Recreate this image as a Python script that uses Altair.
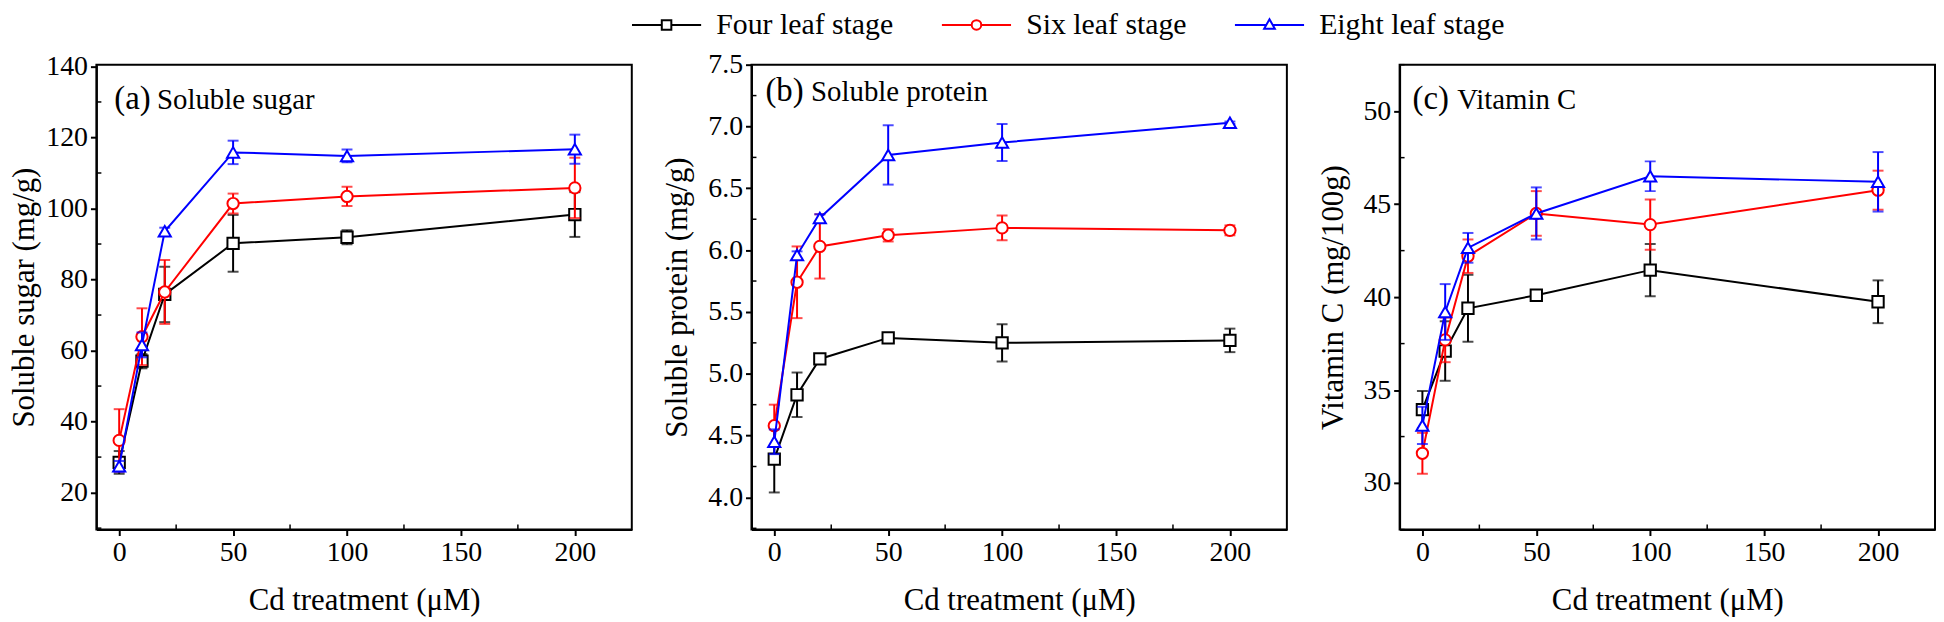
import altair as alt
import pandas as pd

# ---------------- data ----------------
cd = [0, 10, 20, 50, 100, 200]
stages = ["Four leaf stage", "Six leaf stage", "Eight leaf stage"]
stage_colors = ["#000000", "#ff0000", "#0000ff"]
stage_shapes = ["square", "circle", "triangle-up"]

sugar_four = [28.5, 57.0, 75.8, 90.2, 91.9, 98.3]
sugar_four_err = [3.2, 2.0, 7.8, 8.0, 2.0, 6.3]
sugar_six = [34.7, 63.9, 76.5, 101.4, 103.4, 105.8]
sugar_six_err = [8.8, 8.0, 9.0, 2.8, 2.7, 8.5]
sugar_eight = [27.4, 61.6, 93.6, 115.8, 114.8, 116.7]
sugar_eight_err = [1.5, 3.5, 1.0, 3.3, 1.8, 4.1]

protein_four = [4.31, 4.83, 5.12, 5.29, 5.25, 5.27]
protein_four_err = [0.27, 0.18, 0.04, 0.02, 0.15, 0.095]
protein_six = [4.58, 5.74, 6.03, 6.12, 6.18, 6.16]
protein_six_err = [0.17, 0.29, 0.26, 0.05, 0.10, 0.04]
protein_eight = [4.45, 5.96, 6.26, 6.77, 6.87, 7.03]
protein_eight_err = [0.10, 0.03, 0.03, 0.24, 0.15, 0.01]

vitc_four = [33.95, 37.1, 39.4, 40.1, 41.45, 39.75]
vitc_four_err = [1.0, 1.6, 1.8, 0.2, 1.4, 1.15]
vitc_six = [31.6, 37.7, 42.2, 44.5, 43.9, 45.75]
vitc_six_err = [1.1, 1.2, 0.9, 1.2, 1.35, 1.05]
vitc_eight = [33.1, 39.2, 42.65, 44.5, 46.5, 46.2]
vitc_eight_err = [1.0, 1.5, 0.8, 1.4, 0.8, 1.6]

x_ticks = [0, 50, 100, 150, 200]
x_minor = [25, 75, 125, 175]

sugar_ticks = [20, 40, 60, 80, 100, 120, 140]
sugar_minor = [10, 30, 50, 70, 90, 110, 130]
protein_ticks = [4.0, 4.5, 5.0, 5.5, 6.0, 6.5, 7.0, 7.5]
protein_minor = [3.75, 4.25, 4.75, 5.25, 5.75, 6.25, 6.75, 7.25]
vitc_ticks = [30, 35, 40, 45, 50]
vitc_minor = [27.5, 32.5, 37.5, 42.5, 47.5, 52.5]

# legend symbols: line + marker (unit = sqrt(symbolSize)/2 px)
legend_paths = [
    "M-5.8,0H-0.8M0.8,0H5.8M-0.8,-0.8H0.8V0.8H-0.8Z",
    "M-5.8,0H-0.8M0.8,0H5.8M0.8,0A0.8,0.8,0,1,1,-0.8,0A0.8,0.8,0,1,1,0.8,0Z",
    "M-5.8,0H-0.5M0.5,0H5.8M0,-0.95L0.9,0.65H-0.9Z",
]

FONT = "Liberation Serif"
W, H = 539, 468


def make_df(means, errs):
    rows = []
    for s, m, e in zip(stages, means, errs):
        for xv, mv, ev in zip(cd, m, e):
            rows.append(dict(stage=s, x=xv, y=mv, lo=mv - ev, hi=mv + ev))
    return pd.DataFrame(rows)


def panel(df, ydom, yticks, yminor, yfmt, ytitle, title_x, tag, name,
          tag_x, name_x, label_y, with_legend=False):
    xs = alt.Scale(domain=[-10, 225], nice=False, zero=False)
    ys = alt.Scale(domain=ydom, nice=False, zero=False)
    xax = alt.Axis(values=x_ticks, title="Cd treatment (μM)", titlePadding=20, format="d")
    yax = alt.Axis(values=yticks, title=ytitle, titleX=title_x, titleY=H / 2,
                   titleBaseline="middle", titleAlign="center", titleAngle=270,
                   format=yfmt)
    X = alt.X("x:Q", scale=xs, axis=xax)
    layers = []
    # minor ticks (inward)
    layers.append(
        alt.Chart(pd.DataFrame({"v": yminor})).mark_rule(color="black", strokeWidth=1.5)
        .encode(y=alt.Y("v:Q", scale=ys, axis=yax), x=alt.value(0), x2=alt.value(5))
    )
    layers.append(
        alt.Chart(pd.DataFrame({"v": x_minor})).mark_rule(color="black", strokeWidth=1.5)
        .encode(x=alt.X("v:Q", scale=xs, axis=xax), y=alt.value(H), y2=alt.value(H - 5))
    )
    for s, c, sh in zip(stages, stage_colors, stage_shapes):
        b = alt.Chart(df).transform_filter(alt.datum.stage == s)
        layers.append(
            b.mark_rule(color=c, strokeWidth=2).encode(
                x=X, y=alt.Y("lo:Q", scale=ys, axis=yax), y2="hi:Q")
        )
        layers.append(
            b.mark_tick(color=c, thickness=2, size=11, orient="horizontal").encode(
                x=X, y=alt.Y("hi:Q", scale=ys, axis=yax))
        )
        layers.append(
            b.mark_tick(color=c, thickness=2, size=11, orient="horizontal").encode(
                x=X, y=alt.Y("lo:Q", scale=ys, axis=yax))
        )
        layers.append(
            b.mark_line(color=c, strokeWidth=2).encode(
                x=X, y=alt.Y("y:Q", scale=ys, axis=yax))
        )
        layers.append(
            b.mark_point(shape=sh, filled=True, fill="white", stroke=c, strokeWidth=2,
                         size=150 if sh == "triangle-up" else 130, opacity=1).encode(
                x=X, y=alt.Y("y:Q", scale=ys, axis=yax))
        )
    if with_legend:
        leg_common = dict(
            title=None, orient="none", legendX=559, legendY=-55, direction="horizontal",
            labelFont=FONT, labelFontSize=30, labelColor="black", symbolSize=144,
            symbolStrokeWidth=2, symbolOpacity=1, labelOffset=35, columnPadding=44,
            padding=0, labelLimit=400,
        )
        layers.append(
            alt.Chart(df).transform_filter(alt.datum.x == 0)
            .mark_point(opacity=0, filled=False, size=144, strokeWidth=2)
            .encode(
                x=X, y=alt.Y("y:Q", scale=ys, axis=yax),
                stroke=alt.Stroke("stage:N", scale=alt.Scale(domain=stages, range=stage_colors),
                                  legend=alt.Legend(**leg_common)),
                shape=alt.Shape("stage:N", scale=alt.Scale(domain=stages, range=legend_paths),
                                legend=alt.Legend(**leg_common)),
            )
        )
    lab = pd.DataFrame({"tag": [tag], "name": [name]})
    layers.append(
        alt.Chart(lab).mark_text(font=FONT, fontSize=33, align="left", baseline="middle", color="black")
        .encode(text="tag:N", x=alt.value(tag_x), y=alt.value(label_y))
    )
    layers.append(
        alt.Chart(lab).mark_text(font=FONT, fontSize=29, align="left", baseline="middle", color="black")
        .encode(text="name:N", x=alt.value(name_x), y=alt.value(label_y + 1))
    )
    return alt.layer(*layers).properties(width=W, height=H)


pa = panel(make_df([sugar_four, sugar_six, sugar_eight],
                   [sugar_four_err, sugar_six_err, sugar_eight_err]),
           [9.6, 140.5], sugar_ticks, sugar_minor, "d", "Soluble sugar (mg/g)", -72,
           "(a)", "Soluble sugar", 18, 61, 35, with_legend=True)
pb = panel(make_df([protein_four, protein_six, protein_eight],
                   [protein_four_err, protein_six_err, protein_eight_err]),
           [3.74, 7.5], protein_ticks, protein_minor, ".1f", "Soluble protein (mg/g)", -74,
           "(b)", "Soluble protein", 14, 60, 27)
pc = panel(make_df([vitc_four, vitc_six, vitc_eight],
                   [vitc_four_err, vitc_six_err, vitc_eight_err]),
           [27.5, 52.5], vitc_ticks, vitc_minor, "d", "Vitamin C (mg/100g)", -67,
           "(c)", "Vitamin C", 13, 58, 35)

chart = (
    alt.hconcat(pa, pb, pc, spacing=28.5)
    .properties(padding=0)
    .configure(font=FONT)
    .configure_view(stroke="black", strokeWidth=2)
    .configure_axis(
        domainColor="black", domainWidth=2, tickColor="black", tickWidth=2, tickSize=6,
        labelFont=FONT, labelFontSize=28, labelColor="black", labelPadding=3,
        labelFlush=False, titleFont=FONT, titleFontSize=31, titleFontWeight="normal",
        titleColor="black", grid=False,
    )
)

chart.save("out.html", embed_options={"renderer": "svg", "actions": False})
